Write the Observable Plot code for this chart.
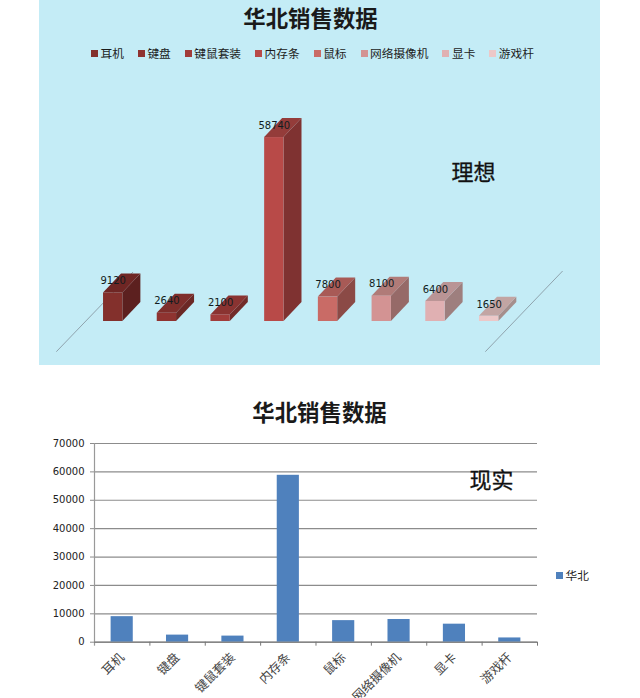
<!DOCTYPE html>
<html><head><meta charset="utf-8">
<script src="https://cdn.jsdelivr.net/npm/d3@7"></script>
<script src="https://cdn.jsdelivr.net/npm/@observablehq/plot@0.6"></script>
<style>
html,body{margin:0;padding:0;background:#fff;width:640px;height:698px;overflow:hidden;font-family:"Noto Sans CJK SC",sans-serif;}
#stage{position:relative;width:640px;height:698px;overflow:hidden;}
#panel{position:absolute;left:39px;top:0;width:561px;height:365px;background:#c4ecf6;}
#stage svg{position:absolute;left:0;background:transparent;overflow:hidden;}
.title{position:absolute;font-weight:700;font-size:22.4px;line-height:26px;color:#1a1a1a;white-space:nowrap;transform:translateX(-50%);}
.legend{position:absolute;display:flex;gap:14px;font-size:11.7px;line-height:14px;color:#1c1c1c;white-space:nowrap;}
.legend span{display:flex;align-items:center;gap:2.5px;}
.legend i{display:inline-block;width:7px;height:7px;}
</style></head><body>
<div id="stage"><div id="panel"></div></div>
<script>
const categories = ["耳机","键盘","键鼠套装","内存条","鼠标","网络摄像机","显卡","游戏杆"];
const idealSales = [9120,2640,2100,58740,7800,8100,6400,1650];
const realSales = [9000,2500,2150,58800,7600,8000,6350,1500];
const frontColors = ["#83302c","#8f3330","#a13c3a","#b84a48","#c96b66","#d39393","#e0b0b2","#ecc8c8"];
const sideColors  = ["#5c201f","#6b2825","#722b29","#7f3231","#8b4a46","#966a68","#9e7f7e","#a58e8c"];
const topColors   = ["#6f2624","#7e2e2b","#8a3331","#943c3a","#a85a56","#b07b78","#b99495","#c2a5a3"];
const yTicks = [0,10000,20000,30000,40000,50000,60000,70000];
const titleText = "华北销售数据";
const seriesName = "华北";
const idealRows = categories.map((c,i)=>({c,v:idealSales[i],i}));
const realRows = categories.map((c,i)=>({c,v:realSales[i],i}));
const stage = document.getElementById("stage");

const svgNS="http://www.w3.org/2000/svg";
const DEPTH_X=18, DEPTH_Y=19;

function depthFaces(index,{x,y}){
  const g=document.createElementNS(svgNS,"g");
  const add=(pts,fill)=>{const p=document.createElementNS(svgNS,"polygon");
    p.setAttribute("points",pts.map(d=>d.join(",")).join(" "));p.setAttribute("fill",fill);g.appendChild(p);};
  const line=(a,b)=>{const l=document.createElementNS(svgNS,"line");
    l.setAttribute("x1",a[0]);l.setAttribute("y1",a[1]);l.setAttribute("x2",b[0]);l.setAttribute("y2",b[1]);
    l.setAttribute("stroke","#8fa3ad");l.setAttribute("stroke-width",1);g.appendChild(l);};
  const left=x(categories[0]), right=x(categories[7])+x.bandwidth(), base=y(0);
  line([left-46.7,base+30.7],[left+30,base-49]);
  line([right-13,base+30.7],[right+64.3,base-50]);
  idealRows.forEach(d=>{
    const x0=x(d.c),x1=x0+x.bandwidth(),t=y(d.v);
    add([[x1,t],[x1+DEPTH_X,t-DEPTH_Y],[x1+DEPTH_X,base-DEPTH_Y],[x1,base]],sideColors[d.i]);
    add([[x0,t],[x0+DEPTH_X,t-DEPTH_Y],[x1+DEPTH_X,t-DEPTH_Y],[x1,t]],topColors[d.i]);
  });
  return g;
}

const idealChart = Plot.plot({
  width:640,height:365,marginLeft:85.85,marginRight:124.5,marginTop:101.8,marginBottom:44,
  style:{background:"transparent"},
  x:{domain:categories,paddingInner:0.64,paddingOuter:0.32,round:false,axis:null,label:null},
  y:{domain:[0,70000],axis:null,label:null},
  marks:[
    depthFaces,
    Plot.barY(idealRows,{x:"c",y:"v",fill:d=>frontColors[d.i]}),
    Plot.text(idealRows,{x:"c",y:"v",text:d=>String(d.v),dy:-12,fontSize:10,fontFamily:"DejaVu Sans",fill:"#111c20"}),
    Plot.text(["理想"],{x:()=>"显卡",y:()=>47900,dx:38,dy:1.5,text:d=>d,fontSize:22,fontWeight:400,stroke:"#111",strokeWidth:0.3,fontFamily:"Noto Sans CJK SC",fill:"#111"})
  ]
});
idealChart.style.top="0px";
stage.appendChild(idealChart);

const realChart = Plot.plot({
  width:640,height:303,marginLeft:94,marginRight:103,marginTop:48,marginBottom:56.3,
  style:{background:"transparent"},
  x:{domain:categories,paddingInner:0.6,paddingOuter:0.3,round:false,label:null},
  y:{domain:[0,70000],label:null},
  marks:[
    Plot.gridY(yTicks,{stroke:"#8c8c8c",strokeOpacity:1,strokeWidth:1.2}),
    Plot.ruleX(categories,{x:d=>d,dx:443/16,y1:0,y2:-1400,stroke:"#777"}),
    Plot.ruleX(categories.slice(0,1),{x:d=>d,dx:-443/16,y1:-1400,y2:70000,stroke:"#999",strokeWidth:1.2}),
    Plot.barY(realRows,{x:"c",y:"v",fill:"#4f81bd"}),
    Plot.ruleY([0],{stroke:"#777"}),
    Plot.axisY({ticks:yTicks,tickSize:4,tickPadding:6,stroke:"#8c8c8c",fontSize:10,fontFamily:"DejaVu Sans",fill:"#222",tickFormat:d=>String(d)}),
    Plot.axisX({tickSize:0,tickPadding:13,tickRotate:-45,textAnchor:"end",fontSize:12.5,fontFamily:"Noto Sans CJK SC",fill:"#444"}),
    Plot.text(["现实"],{x:()=>"显卡",y:()=>56700,dx:37,text:d=>d,fontSize:22,fontWeight:400,stroke:"#111",strokeWidth:0.3,fontFamily:"Noto Sans CJK SC",fill:"#111"})
  ]
});
realChart.style.top="395px";
stage.appendChild(realChart);

function addTitle(cx,top){const t=document.createElement("div");t.className="title";t.textContent=titleText;t.style.left=cx+"px";t.style.top=top+"px";stage.appendChild(t);}
addTitle(310.5,3.5);addTitle(319.5,397.5);

const lg=document.createElement("div");lg.className="legend";lg.style.left="91px";lg.style.top="46px";
categories.forEach((c,i)=>{const s=document.createElement("span");const k=document.createElement("i");k.style.background=frontColors[i];s.appendChild(k);s.append(c);lg.appendChild(s);});
stage.appendChild(lg);

const lg2=document.createElement("div");lg2.className="legend";lg2.style.left="556px";lg2.style.top="568px";
const s2=document.createElement("span");const k2=document.createElement("i");k2.style.background="#4f81bd";s2.appendChild(k2);s2.append(seriesName);lg2.appendChild(s2);
stage.appendChild(lg2);
</script>
</body></html>
